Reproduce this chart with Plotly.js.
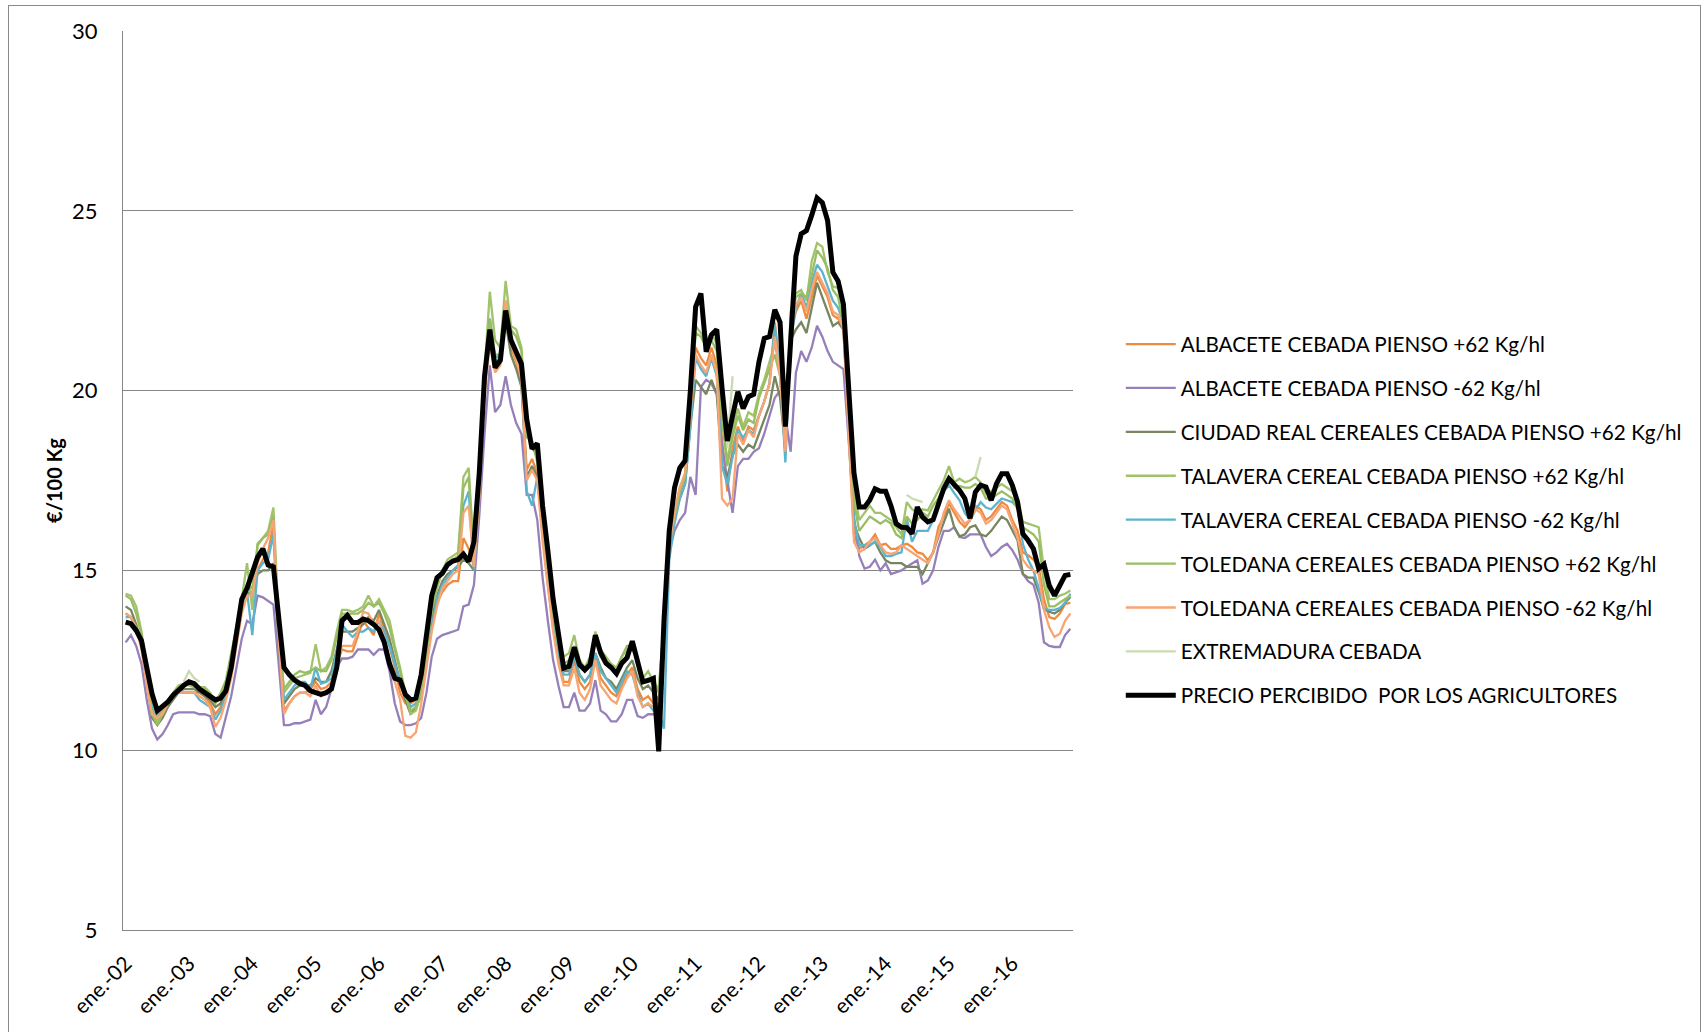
<!DOCTYPE html>
<html>
<head>
<meta charset="utf-8">
<script src="https://cdn.plot.ly/plotly-3.0.1.min.js"></script>
<style>
html,body{margin:0;padding:0;background:#fff;overflow:hidden}
#chart{width:1705px;height:1032px}
#frame{position:absolute;left:8px;top:5px;width:1693px;height:1040px;border:1px solid #8a8a8a;pointer-events:none;box-sizing:border-box}
</style>
</head>
<body>
<div id="chart"></div>
<div id="frame"></div>
<script>
// ---- categories ----
const monthNames = ['ene.','feb.','mar.','abr.','may.','jun.','jul.','ago.','sep.','oct.','nov.','dic.'];
const years = ['02','03','04','05','06','07','08','09','10','11','12','13','14','15','16'];
const tickLabels = ['ene.-02','ene.-03','ene.-04','ene.-05','ene.-06','ene.-07','ene.-08','ene.-09','ene.-10','ene.-11','ene.-12','ene.-13','ene.-14','ene.-15','ene.-16'];

// ---- series values (€/100 Kg), monthly ene.-02 .. dic.-16 ----
const albacetePlus = [
13.8,13.7,13.4,12.9,11.9,11.1,10.9,11.1,11.3,11.5,11.6,11.6,
11.6,11.6,11.6,11.5,11.3,11.0,11.2,11.5,12.1,13.0,13.9,14.3,
14.4,15.0,15.3,15.5,16.3,13.0,11.1,11.3,11.5,11.6,11.6,11.7,
11.9,11.7,11.75,11.9,12.4,12.8,12.75,12.75,13.2,13.6,13.4,13.2,
13.8,13.4,12.9,12.3,11.6,11.3,11.3,11.4,11.6,12.5,13.5,14.1,
14.4,14.6,14.7,14.7,15.9,15.6,15.1,17.4,20.1,21.5,20.6,20.8,
22.2,21.2,20.8,20.2,17.8,18.1,17.7,16.0,14.6,13.4,12.5,11.9,
11.9,12.5,11.9,11.7,11.9,12.6,12.0,11.8,11.6,11.5,11.8,12.1,
12.3,11.7,11.4,11.5,11.3,11.3,13.3,15.6,16.4,17.2,17.6,19.2,
21.2,20.9,20.7,21.2,20.7,18.6,17.2,18.4,19.0,18.6,19.0,18.9,
19.3,19.7,20.2,21.9,20.6,18.2,21.6,22.2,22.5,22.0,22.6,23.2,
22.9,22.6,22.1,22.0,21.8,18.8,16.0,15.6,15.7,15.8,16.0,15.7,
15.74,15.6,15.6,15.7,15.74,15.65,15.5,15.46,15.28,15.5,16.2,16.5,
16.86,16.6,16.35,16.2,16.4,16.8,16.7,16.4,16.5,16.7,16.9,16.8,
16.4,16.1,15.5,15.42,15.3,15.1,14.2,13.7,13.65,13.8,14.07,14.1];

const albaceteMinus = [
13.0,13.2,12.9,12.4,11.4,10.6,10.3,10.45,10.7,11.0,11.05,11.05,
11.05,11.05,11.0,11.0,10.95,10.45,10.35,10.9,11.5,12.3,13.1,13.6,
13.5,14.3,14.25,14.15,14.05,12.4,10.7,10.7,10.75,10.75,10.8,10.85,
11.4,11.0,11.2,11.7,12.3,12.55,12.55,12.6,12.8,12.8,12.8,12.65,
12.8,12.8,12.2,11.3,10.8,10.7,10.7,10.75,10.9,11.6,12.6,13.1,
13.2,13.25,13.3,13.35,14.0,14.05,14.6,16.5,18.8,20.7,19.4,19.6,
20.4,19.6,19.1,18.8,17.1,17.1,16.4,14.8,13.6,12.5,11.8,11.2,
11.2,11.6,11.1,11.1,11.3,11.95,11.1,11.0,10.8,10.8,11.0,11.4,
11.4,10.95,10.9,11.0,11.0,11.0,13.0,15.5,16.1,16.4,16.6,17.6,
17.1,20.1,20.3,20.2,19.9,18.5,17.5,16.6,17.9,18.1,18.1,18.3,
18.4,18.8,19.3,19.8,20.0,19.3,18.3,20.5,21.1,20.8,21.2,21.8,
21.5,21.1,20.8,20.7,20.6,18.6,16.5,15.4,15.05,15.1,15.3,15.0,
15.2,14.9,14.95,15.0,15.1,15.2,15.28,14.63,14.72,15.0,15.65,16.1,
16.1,16.2,15.93,15.9,16.0,16.0,16.0,15.65,15.4,15.5,15.65,15.74,
15.56,15.3,14.9,14.7,14.6,14.1,13.0,12.9,12.87,12.87,13.2,13.38];

const ciudadReal = [
14.0,13.9,13.5,12.9,11.9,10.9,10.7,10.9,11.2,11.4,11.6,11.7,
11.7,11.7,11.6,11.5,11.4,11.2,11.3,11.7,12.3,13.2,14.0,14.4,
14.3,14.9,15.0,15.0,15.2,13.0,11.3,11.5,11.7,11.8,11.8,11.8,
12.0,11.9,11.9,12.2,12.8,13.3,13.3,13.3,13.4,13.5,13.7,13.6,
13.9,13.5,13.1,12.5,11.9,11.4,11.0,11.2,11.5,12.4,13.7,14.3,
14.7,14.9,15.0,15.1,15.3,15.2,15.0,17.5,20.2,21.6,20.8,20.9,
21.9,21.0,20.6,20.1,17.6,17.9,17.6,16.1,14.8,13.6,12.7,12.2,
12.2,12.6,12.1,11.9,12.1,12.7,12.3,12.0,11.9,11.7,12.0,12.3,
12.5,12.0,11.7,11.8,11.6,11.4,13.4,15.6,16.5,17.0,17.4,19.0,
20.3,20.1,19.9,20.3,19.9,17.9,17.6,18.2,18.5,18.3,18.5,18.4,
18.8,19.2,19.6,20.4,19.8,18.4,21.4,21.7,21.9,21.6,22.3,23.0,
22.6,22.2,21.8,21.9,21.7,19.0,16.3,15.9,15.6,15.7,15.8,15.5,
15.28,15.2,15.19,15.2,15.1,15.1,15.1,14.9,15.2,15.5,15.93,16.3,
16.72,16.2,15.95,16.0,16.2,16.25,16.0,15.95,16.1,16.3,16.5,16.4,
16.1,15.83,14.9,14.8,14.8,14.4,13.93,13.85,13.8,13.9,14.1,14.26];

const talaveraPlus = [
14.35,14.3,14.0,13.3,12.3,11.2,10.8,11.1,11.4,11.6,11.8,11.85,
11.8,11.75,11.75,11.75,11.6,11.35,11.6,11.95,12.7,13.5,14.2,15.2,
13.9,15.75,15.9,16.1,16.75,13.5,11.6,11.8,12.0,12.05,12.1,12.15,
12.95,12.2,12.3,12.6,13.3,13.9,13.9,13.85,13.9,14.0,14.3,14.0,
14.2,13.9,13.6,12.9,12.3,11.6,11.0,11.1,11.6,12.6,13.9,14.5,
15.0,15.3,15.4,15.5,17.6,17.85,15.4,18.0,20.5,22.75,21.4,21.2,
23.05,21.8,21.7,21.2,18.9,18.4,18.2,16.5,15.2,14.0,13.1,12.6,
12.7,13.2,12.5,12.3,12.6,13.3,12.8,12.6,12.4,12.3,12.6,12.8,
12.8,12.5,12.0,12.2,11.9,11.7,13.5,15.6,16.6,17.3,17.7,19.5,
21.8,21.6,21.4,21.6,21.3,19.5,18.0,18.9,19.5,19.0,19.4,19.3,
19.9,20.3,20.8,21.3,20.6,18.6,22.2,22.7,22.8,22.5,23.6,24.1,
24.0,23.3,22.9,22.85,21.9,19.4,17.2,16.4,16.6,16.8,16.6,16.6,
16.5,16.4,16.2,16.0,16.9,16.7,16.6,16.7,16.67,16.95,17.2,17.5,
17.9,17.45,17.55,17.45,17.5,17.6,17.45,17.15,17.2,17.3,17.4,17.3,
17.2,16.9,16.35,16.3,16.25,16.2,15.0,14.2,14.2,14.3,14.35,14.44];

const talaveraMinus = [
13.7,13.7,13.4,12.9,12.0,11.2,11.0,11.2,11.4,11.5,11.6,11.6,
11.6,11.6,11.4,11.3,11.2,10.85,11.1,11.5,12.2,13.1,14.0,14.4,
13.2,15.0,15.2,15.3,16.0,13.2,11.4,11.6,11.8,11.9,11.9,11.7,
12.3,11.85,11.9,12.0,12.7,13.5,13.3,13.15,13.3,13.3,13.4,13.3,
13.6,13.3,12.9,12.4,11.9,11.6,11.2,11.3,11.7,12.4,13.4,14.2,
14.6,14.8,15.0,15.15,16.8,17.2,15.0,17.2,20.0,22.0,20.9,21.0,
22.0,21.4,21.0,20.4,17.2,16.8,17.6,16.0,14.6,13.5,12.7,12.1,
12.1,12.6,12.1,11.9,12.1,12.7,12.2,12.0,11.8,11.6,11.9,12.2,
12.1,11.6,11.2,11.3,11.1,11.1,10.6,15.3,16.3,17.0,17.4,19.0,
20.9,20.6,20.4,20.9,20.4,17.9,17.4,18.2,18.9,18.7,18.9,18.8,
19.3,19.7,20.2,21.8,20.5,18.0,21.4,22.3,22.7,22.3,23.0,23.5,
23.3,22.9,22.5,22.3,21.9,19.0,16.4,15.7,15.7,15.7,15.8,15.65,
15.4,15.4,15.46,15.5,16.44,15.8,16.1,16.1,16.1,16.4,16.95,17.2,
17.37,17.15,16.95,16.6,16.4,16.67,16.9,16.75,16.7,16.85,17.0,16.95,
16.9,16.76,15.74,15.3,15.0,14.5,13.93,13.9,13.9,13.95,14.1,14.35];

const toledanaPlus = [
14.3,14.2,13.8,13.2,12.1,11.0,10.7,11.0,11.3,11.5,11.7,11.8,
11.9,11.8,11.7,11.7,11.55,11.3,11.5,11.9,12.6,13.4,14.1,14.6,
14.5,15.7,15.9,16.0,16.5,13.3,11.7,11.9,12.1,12.2,12.15,12.2,
12.3,12.2,12.2,12.5,13.2,13.8,13.8,13.8,13.8,13.9,14.1,14.0,
14.1,13.8,13.4,12.8,12.2,11.5,11.1,11.2,11.7,12.7,14.0,14.6,
15.0,15.2,15.3,15.4,17.3,17.6,15.2,17.8,20.3,22.0,21.0,21.0,
22.5,21.7,21.5,21.1,18.7,18.6,18.0,16.3,15.0,13.8,12.9,12.4,
12.5,12.9,12.4,12.2,12.5,13.1,12.6,12.5,12.3,12.2,12.6,12.9,
12.9,12.4,11.9,12.0,11.8,11.6,13.6,15.7,16.5,17.2,17.6,19.4,
21.6,21.5,21.2,21.4,21.1,19.2,17.9,18.7,19.3,18.9,19.2,19.1,
19.8,20.2,20.6,21.0,20.4,18.5,21.9,22.6,22.7,22.6,23.2,23.9,
23.7,23.4,22.8,22.6,21.8,19.2,16.9,16.1,16.3,16.5,16.4,16.3,
16.4,16.3,16.0,15.9,16.5,16.3,16.4,16.6,16.5,16.8,17.0,17.3,
17.6,17.3,17.35,17.3,17.3,17.4,17.3,17.0,17.0,17.1,17.2,17.1,
17.0,16.7,16.2,16.1,16.0,15.8,14.6,14.0,14.0,14.1,14.2,14.3];

const toledanaMinus = [
13.8,13.7,13.4,12.8,11.8,11.0,10.9,11.0,11.3,11.5,11.6,11.6,
11.6,11.6,11.5,11.4,11.2,10.65,10.9,11.4,12.0,12.9,13.8,14.3,
14.3,15.2,15.6,15.9,16.4,13.1,11.0,11.3,11.5,11.6,11.6,11.5,
11.8,11.5,11.6,11.8,12.4,12.9,12.9,12.9,13.3,13.85,13.8,13.5,
13.6,13.1,12.5,11.9,11.4,10.4,10.35,10.5,11.3,12.3,13.3,14.0,
14.5,14.7,14.9,15.0,16.6,16.8,15.1,17.0,19.9,21.3,20.5,20.7,
22.5,21.3,20.9,20.3,17.5,17.8,17.5,15.8,14.5,13.3,12.4,11.8,
11.8,12.3,11.6,11.4,11.7,12.5,11.8,11.6,11.4,11.3,11.7,12.0,
12.2,11.5,11.2,11.3,11.2,11.2,13.2,15.7,16.6,17.3,17.7,19.4,
21.0,20.7,20.5,21.0,20.5,17.0,16.8,17.0,18.8,18.5,18.9,18.7,
19.3,19.7,20.2,21.5,20.4,18.3,21.7,22.4,22.6,22.2,22.8,23.3,
23.0,22.7,22.2,22.1,21.7,18.7,15.8,15.5,15.6,15.8,15.9,15.7,
15.5,15.46,15.5,15.7,15.6,15.5,15.4,15.3,15.2,15.5,16.0,16.6,
16.95,16.7,16.5,16.3,16.4,16.7,16.6,16.3,16.4,16.6,16.8,16.7,
16.3,15.9,15.3,15.1,15.0,14.9,13.9,13.42,13.15,13.24,13.6,13.8];

// Extremadura: only a few months reported
const extremaduraMonths = ['dic.-02','ene.-03','feb.-03','mar.-03','jul.-11','ago.-11','may.-14','jun.-14','jul.-14','ago.-14','jun.-15','jul.-15'];
const extremaduraValues = [11.9,12.2,12.0,11.9,18.4,20.4,17.1,17.0,16.95,16.9,17.6,18.15];

const precioAgricultores = [
13.56,13.52,13.33,13.05,12.3,11.57,11.1,11.2,11.34,11.53,11.67,11.8,
11.9,11.85,11.7,11.6,11.5,11.4,11.45,11.65,12.3,13.3,14.2,14.5,
14.95,15.37,15.6,15.15,15.1,13.6,12.3,12.1,11.95,11.85,11.8,11.65,
11.6,11.55,11.6,11.7,12.3,13.6,13.75,13.55,13.55,13.65,13.6,13.5,
13.35,13.0,12.4,12.0,11.95,11.55,11.4,11.45,12.1,13.1,14.3,14.8,
14.92,15.16,15.26,15.3,15.45,15.25,15.8,17.7,20.4,21.7,20.64,20.84,
22.23,21.41,21.03,20.74,19.2,18.38,18.53,16.8,15.55,14.2,13.24,12.28,
12.33,12.86,12.38,12.23,12.38,13.2,12.71,12.42,12.3,12.13,12.42,12.57,
13.03,12.47,11.9,11.94,12.0,9.97,13.6,16.1,17.3,17.85,18.05,20.0,
22.33,22.7,21.08,21.55,21.7,20.07,18.6,19.3,19.97,19.5,19.83,19.9,
20.8,21.45,21.5,22.25,21.9,19.0,21.3,23.74,24.36,24.45,24.88,25.36,
25.23,24.73,23.29,23.04,22.4,20.2,17.71,16.76,16.76,16.96,17.27,17.2,
17.2,16.8,16.3,16.2,16.19,16.02,16.76,16.48,16.35,16.41,16.86,17.27,
17.55,17.38,17.23,17.0,16.45,17.18,17.37,17.32,16.95,17.41,17.69,17.69,
17.37,16.9,16.02,15.83,15.6,15.05,15.17,14.58,14.3,14.58,14.86,14.89];

// ---- build category labels ----
const months = [];
years.forEach(y => monthNames.forEach(m => months.push(m + '-' + y)));

const extremadura = months.map(m => {
  const k = extremaduraMonths.indexOf(m);
  return k >= 0 ? extremaduraValues[k] : null;
});

const seriesDefs = [
  {name:'ALBACETE CEBADA PIENSO +62 Kg/hl', y:albacetePlus, color:'#EE8B3E', w:2.3},
  {name:'ALBACETE CEBADA PIENSO -62 Kg/hl', y:albaceteMinus, color:'#9680BA', w:2.3},
  {name:'CIUDAD REAL CEREALES CEBADA PIENSO +62 Kg/hl', y:ciudadReal, color:'#77865F', w:2.3},
  {name:'TALAVERA CEREAL CEBADA PIENSO +62 Kg/hl', y:talaveraPlus, color:'#A2C26C', w:2.3},
  {name:'TALAVERA CEREAL CEBADA PIENSO -62 Kg/hl', y:talaveraMinus, color:'#5BB3CE', w:2.3},
  {name:'TOLEDANA CEREALES CEBADA PIENSO +62 Kg/hl', y:toledanaPlus, color:'#98BD62', w:2.3},
  {name:'TOLEDANA CEREALES CEBADA PIENSO -62 Kg/hl', y:toledanaMinus, color:'#F7A574', w:2.3},
  {name:'EXTREMADURA CEBADA', y:extremadura, color:'#CADBAE', w:2.3},
  {name:'PRECIO PERCIBIDO  POR LOS AGRICULTORES', y:precioAgricultores, color:'#000000', w:5}
];

const traces = seriesDefs.map((s, k) => ({
  type:'scatter', mode:'lines', x:months, y:s.y, name:s.name,
  legendgroup:'g'+k, connectgaps:false,
  line:{color:s.color, width:s.w}, hoverinfo:'skip'
}));

const FONT = 'Lato, "Open Sans", sans-serif';
const layout = {
  width:1705, height:1032,
  margin:{l:123, r:632, t:31, b:102},
  paper_bgcolor:'#ffffff', plot_bgcolor:'#ffffff',
  font:{family:FONT, color:'#000'},
  showlegend:true,
  legend:{x:1.0503, xanchor:'left', y:0.674, yanchor:'top',
    font:{family:FONT, size:20.7, color:'#000'}, itemwidth:50,
    traceorder:'grouped', tracegroupgap:14, bgcolor:'rgba(0,0,0,0)'},
  xaxis:{type:'category', tickmode:'array', tickvals:tickLabels, ticktext:tickLabels,
    tickangle:-45, tickfont:{family:FONT, size:21, color:'#000'},
    showgrid:false, showline:true, linecolor:'#868686', linewidth:1,
    ticks:'outside', ticklen:12, tickcolor:'rgba(0,0,0,0)',
    zeroline:false, range:[-0.5, 179.5], automargin:false},
  yaxis:{range:[5,30], tickvals:[5,10,15,20,25,30], showgrid:true, gridcolor:'#868686', gridwidth:1,
    showline:true, linecolor:'#868686', linewidth:1, zeroline:false,
    ticks:'outside', ticklen:20, tickcolor:'rgba(0,0,0,0)',
    tickfont:{family:FONT, size:22, color:'#000'},
    title:{text:'<b>€/100 Kg</b>', font:{family:FONT, size:20, color:'#000'}, standoff:4},
    automargin:false}
};

Plotly.newPlot('chart', traces, layout, {staticPlot:true, displayModeBar:false});
</script>
</body>
</html>
